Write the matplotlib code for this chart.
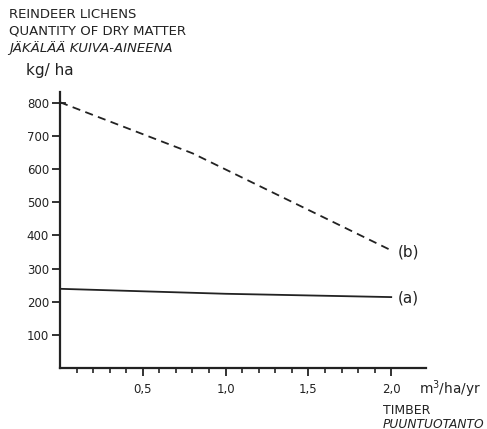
import numpy as np
import matplotlib
matplotlib.use('Agg')
import matplotlib.pyplot as plt
from matplotlib.ticker import FixedLocator

# data
timber = [0.0, 0.8, 2.0]
lichen_b = [802, 648, 355]
timber_a = [0.0, 1.0, 2.0]
lichen_a = [239, 224, 214]
y_ticks = [100, 200, 300, 400, 500, 600, 700, 800]
x_major = [0.5, 1.0, 1.5, 2.0]
x_labels = ['0,5', '1,0', '1,5', '2,0']
x_minor = [i / 10 for i in range(1, 21)]

ink = '#222222'
plt.rcParams['font.family'] = ['DejaVu Sans']
plt.rcParams['font.size'] = 8.5

W, H = 487, 429
fig = plt.figure(figsize=(W / 100, H / 100), dpi=100)
ax = fig.add_axes([60 / W, 1 - 368 / H, (426 - 60) / W, (368 - 92) / H])

ax.plot(timber, lichen_b, color=ink, lw=1.3, ls=(0, (4.5, 3)))
ax.plot(timber_a, lichen_a, color=ink, lw=1.3)

ax.set_xlim(0, 2.21)
ax.set_ylim(0, 833)
for s in ['top', 'right']:
    ax.spines[s].set_visible(False)
for s in ['left', 'bottom']:
    ax.spines[s].set_linewidth(1.6)
    ax.spines[s].set_color(ink)

ax.set_yticks(y_ticks)
ax.tick_params(axis='y', direction='out', length=6, width=1.3, color=ink,
               labelcolor=ink, pad=2)
ax.set_xticks(x_major)
ax.set_xticklabels(x_labels)
ax.xaxis.set_minor_locator(FixedLocator(x_minor))
ax.tick_params(axis='x', which='major', direction='out', length=6, width=1.3,
               color=ink, labelcolor=ink, pad=5)
ax.tick_params(axis='x', which='minor', direction='out', length=3.8, width=1.2,
               color=ink)
# tick at 800 crosses the axis
ax.plot([0, 0.03], [800, 800], color=ink, lw=1.3, clip_on=False)

# end labels
ax.text(2.04, lichen_b[-1] - 5, '(b)', color=ink, fontsize=11, va='center')
ax.text(2.04, lichen_a[-1] - 2, '(a)', color=ink, fontsize=11, va='center')

def ftext(x, y, s, **kw):
    fig.text(x / W, 1 - y / H, s, color=ink, va='center', **kw)

ftext(9, 14, 'REINDEER LICHENS', fontsize=9.5)
ftext(9, 31, 'QUANTITY OF DRY MATTER', fontsize=9.5)
ftext(9, 48, 'JÄKÄLÄÄ KUIVA-AINEENA', style='italic', fontsize=9.5)
ftext(26, 70, 'kg/ ha', fontsize=11)
ftext(419, 389, 'm$^3$/ha/yr', fontsize=9.8)
ftext(383, 410, 'TIMBER', fontsize=9)
ftext(383, 424, 'PUUNTUOTANTO', style='italic', fontsize=8.8)

fig.savefig('out.png', dpi=100)
